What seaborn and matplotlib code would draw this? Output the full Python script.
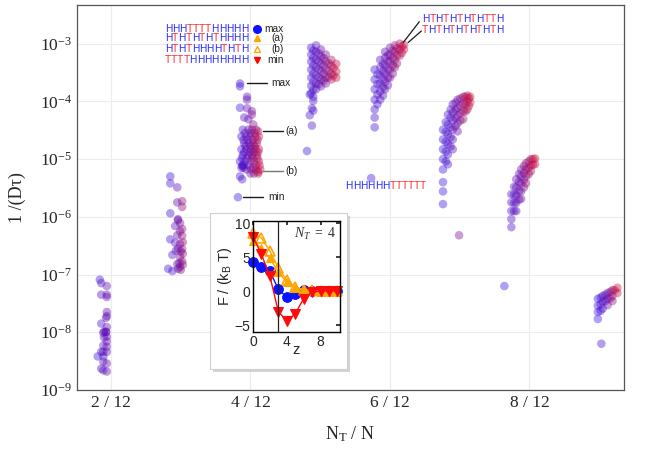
import numpy as np
import pandas as pd
import seaborn as sns
import matplotlib.pyplot as plt
from matplotlib.colors import LinearSegmentedColormap
from matplotlib.patches import Rectangle
from matplotlib.ticker import FixedLocator, LogLocator, NullFormatter

# scatter clouds: (offset from N_T, log10 of 1/(D tau))
c2 = [(-0.16, -7.09), (-0.14, -7.15), (-0.06, -7.20), (-0.14, -7.35), (-0.06, -7.35), (-0.06, -7.39),
      (-0.06, -7.65), (-0.06, -7.72), (-0.07, -7.75), (-0.14, -7.85), (-0.06, -7.91), (-0.10, -7.99),
      (-0.07, -7.99), (-0.07, -8.00), (-0.11, -8.01), (-0.06, -8.08), (-0.10, -8.09), (-0.06, -8.16),
      (-0.11, -8.23), (-0.06, -8.25), (-0.14, -8.34), (-0.06, -8.34), (-0.11, -8.34), (-0.19, -8.42),
      (-0.11, -8.42), (-0.11, -8.51), (-0.06, -8.54), (-0.14, -8.63), (-0.11, -8.66), (-0.06, -8.68)]
c3 = [(-0.15, -5.30), (-0.15, -5.42), (-0.05, -5.49), (-0.05, -5.75), (0.02, -5.73), (0.02, -5.83),
      (-0.15, -5.94), (-0.04, -6.04), (-0.04, -6.06), (-0.01, -6.11), (-0.08, -6.16), (0.02, -6.21),
      (-0.05, -6.32), (0.02, -6.33), (-0.15, -6.39), (-0.08, -6.45), (-0.01, -6.47), (0.02, -6.56),
      (-0.07, -6.59), (-0.12, -6.66), (-0.01, -6.70), (0.02, -6.77), (-0.05, -6.82), (-0.01, -6.87),
      (-0.18, -6.90), (-0.12, -6.94), (-0.04, -6.90), (0.03, -6.83), (0.03, -6.64), (0.03, -6.44),
      (-0.01, -6.25), (-0.04, -6.55), (0.00, -6.60), (-0.02, -6.80), (0.00, -6.92)]
c4 = [(-0.15, -3.69), (-0.15, -3.74), (-0.05, -3.92), (-0.05, -3.97), (-0.15, -4.11), (-0.05, -4.12),
      (0.02, -4.17), (0.02, -4.23), (-0.09, -4.28), (-0.03, -4.31), (0.04, -4.40), (0.11, -4.52),
      (-0.11, -4.49), (-0.03, -4.49), (0.02, -4.49), (0.08, -4.49),
      (-0.08, -4.55), (0.00, -4.55), (0.06, -4.55),
      (-0.13, -4.61), (-0.06, -4.61), (0.00, -4.61), (0.07, -4.61), (0.12, -4.61),
      (-0.10, -4.67), (-0.04, -4.67), (0.03, -4.67), (0.10, -4.67),
      (-0.09, -4.73), (-0.02, -4.73), (0.04, -4.73), (0.09, -4.73),
      (-0.07, -4.78), (0.00, -4.78), (0.06, -4.78),
      (-0.13, -4.83), (-0.06, -4.83), (0.01, -4.83), (0.07, -4.83), (0.12, -4.83),
      (-0.09, -4.88), (-0.01, -4.88), (0.05, -4.88), (0.11, -4.88),
      (-0.11, -4.93), (-0.03, -4.93), (0.02, -4.93), (0.09, -4.93),
      (-0.12, -4.98), (-0.05, -4.98), (0.03, -4.98), (0.10, -4.98),
      (-0.15, -5.04), (-0.08, -5.04), (0.00, -5.04), (0.05, -5.04), (0.12, -5.04),
      (-0.12, -5.11), (-0.11, -5.12), (-0.10, -5.10), (-0.03, -5.11), (0.08, -5.11), (0.13, -5.11),
      (-0.13, -5.15), (-0.10, -5.15), (0.04, -5.15),
      (-0.06, -5.18), (0.01, -5.18), (0.08, -5.18), (0.14, -5.18),
      (0.00, -5.25), (0.05, -5.25), (0.11, -5.25), (0.11, -5.22),
      (-0.15, -5.30), (-0.12, -5.35), (-0.18, -5.66)]
c5 = [(-0.13, -3.07), (-0.13, -3.19), (-0.13, -3.31), (-0.13, -3.45), (-0.13, -3.59), (-0.13, -3.73), (-0.13, -3.86),
      (-0.10, -3.12), (-0.10, -3.25), (-0.10, -3.38), (-0.10, -3.52), (-0.10, -3.66), (-0.10, -3.80),
      (-0.06, -3.03), (-0.06, -3.14), (-0.06, -3.28), (-0.06, -3.41), (-0.06, -3.55), (-0.06, -3.69), (-0.06, -3.79),
      (-0.02, -3.17), (-0.02, -3.30), (-0.02, -3.44), (-0.02, -3.58), (-0.02, -3.70),
      (0.01, -3.10), (0.01, -3.22), (0.01, -3.35), (0.01, -3.48), (0.01, -3.62), (0.01, -3.74),
      (0.05, -3.25), (0.05, -3.38), (0.05, -3.52), (0.05, -3.64),
      (0.08, -3.19), (0.08, -3.31), (0.08, -3.45), (0.08, -3.59), (0.08, -3.69),
      (0.12, -3.34), (0.12, -3.47), (0.12, -3.58),
      (0.16, -3.28), (0.16, -3.38), (0.16, -3.52), (0.16, -3.62),
      (0.19, -3.42), (0.19, -3.55),
      (0.23, -3.35), (0.23, -3.48), (0.23, -3.59),
      (-0.15, -3.88), (-0.10, -3.92), (-0.10, -3.99), (-0.12, -4.12), (-0.10, -4.16), (-0.15, -4.24),
      (-0.12, -4.42), (-0.19, -4.86)]
c6 = [(-0.22, -3.45), (-0.22, -3.62), (-0.22, -3.79), (-0.22, -3.97), (-0.22, -4.14), (-0.22, -4.28), (-0.22, -4.45),
      (-0.18, -3.53), (-0.18, -3.70), (-0.18, -3.88), (-0.18, -4.05),
      (-0.14, -3.28), (-0.14, -3.41), (-0.14, -3.55), (-0.14, -3.69), (-0.14, -3.83), (-0.14, -3.97),
      (-0.10, -3.35), (-0.10, -3.48), (-0.10, -3.62), (-0.10, -3.76), (-0.10, -3.90),
      (-0.07, -3.14), (-0.07, -3.24), (-0.07, -3.38), (-0.07, -3.52), (-0.07, -3.66), (-0.07, -3.79),
      (-0.03, -3.20), (-0.03, -3.31), (-0.03, -3.45), (-0.03, -3.59), (-0.03, -3.72),
      (0.00, -3.07), (0.00, -3.19), (0.00, -3.31), (0.00, -3.45), (0.00, -3.59),
      (0.04, -3.12), (0.04, -3.25), (0.04, -3.38), (0.04, -3.52),
      (0.07, -3.03), (0.07, -3.14), (0.07, -3.28), (0.07, -3.41),
      (0.10, -3.08), (0.10, -3.20), (0.10, -3.34),
      (0.14, -3.00), (0.14, -3.10), (0.14, -3.21),
      (0.17, -3.05), (0.17, -3.16),
      (0.20, -3.02), (0.20, -3.10),
      (-0.27, -5.33)]
c7 = [(-0.24, -4.49), (-0.24, -4.66), (-0.24, -4.83), (-0.24, -5.00), (-0.24, -5.18), (-0.24, -5.40),
      (-0.24, -5.56), (-0.24, -5.78),
      (-0.20, -4.36), (-0.20, -4.53), (-0.20, -4.70), (-0.20, -4.87), (-0.20, -5.04),
      (-0.17, -4.23), (-0.17, -4.40), (-0.17, -4.57), (-0.17, -4.74), (-0.17, -4.92), (-0.17, -5.09),
      (-0.13, -4.14), (-0.13, -4.28), (-0.13, -4.45), (-0.13, -4.62), (-0.13, -4.78),
      (-0.10, -4.05), (-0.10, -4.19), (-0.10, -4.33), (-0.10, -4.49), (-0.10, -4.66), (-0.10, -4.83),
      (-0.06, -4.02), (-0.06, -4.15), (-0.06, -4.29), (-0.06, -4.43),
      (-0.03, -3.97), (-0.03, -4.11), (-0.03, -4.24), (-0.03, -4.38), (-0.03, -4.52),
      (0.01, -3.95), (0.01, -4.07), (0.01, -4.20), (0.01, -4.33),
      (0.05, -3.92), (0.05, -4.04), (0.05, -4.17), (0.05, -4.31),
      (0.08, -3.92), (0.08, -4.05), (0.08, -4.18),
      (0.11, -3.90), (0.11, -4.00), (0.11, -4.14),
      (0.13, -3.95), (0.13, -4.08),
      (0.15, -3.92), (0.15, -4.02),
      (-0.01, -6.32)]
c8 = [(-0.26, -5.61), (-0.26, -5.75), (-0.26, -5.90), (-0.26, -6.04), (-0.26, -6.18),
      (-0.22, -5.48), (-0.22, -5.62), (-0.22, -5.76), (-0.22, -5.90),
      (-0.19, -5.35), (-0.19, -5.49), (-0.19, -5.63), (-0.19, -5.76), (-0.19, -5.90),
      (-0.15, -5.26), (-0.15, -5.40), (-0.15, -5.55), (-0.15, -5.70),
      (-0.12, -5.18), (-0.12, -5.30), (-0.12, -5.42), (-0.12, -5.56), (-0.12, -5.69),
      (-0.08, -5.12), (-0.08, -5.24), (-0.08, -5.36), (-0.08, -5.49),
      (-0.05, -5.07), (-0.05, -5.18), (-0.05, -5.30), (-0.05, -5.42),
      (-0.01, -5.04), (-0.01, -5.15), (-0.01, -5.26),
      (0.02, -5.00), (0.02, -5.11), (0.02, -5.21),
      (0.05, -5.00), (0.05, -5.10),
      (0.08, -4.99), (0.08, -5.09),
      (-0.36, -7.20)]
c9 = [(-0.02, -7.42), (-0.02, -7.54), (-0.02, -7.65), (-0.02, -7.77),
      (0.02, -7.40), (0.02, -7.52), (0.02, -7.63),
      (0.05, -7.37), (0.05, -7.47), (0.05, -7.59),
      (0.09, -7.35), (0.09, -7.46),
      (0.12, -7.32), (0.12, -7.42), (0.12, -7.53),
      (0.16, -7.30), (0.16, -7.41),
      (0.19, -7.27), (0.19, -7.37), (0.19, -7.46),
      (0.22, -7.27),
      (0.26, -7.23), (0.26, -7.32),
      (0.03, -8.20)]
clouds = {2: c2, 3: c3, 4: c4, 5: c5, 6: c6, 7: c7, 8: c8, 9: c9}
# how far towards red each cloud gets (colour only)
red_reach = {2: 0.5, 3: 0.75, 4: 1.0, 5: 1.0, 6: 1.0, 7: 1.0, 8: 1.0, 9: 1.0}

x_ticks = [2, 4, 6, 8]
x_ticklabels = ['2 / 12', '4 / 12', '6 / 12', '8 / 12']
y_ticks = [1e-9, 1e-8, 1e-7, 1e-6, 1e-5, 1e-4, 1e-3]

# inset: free energy profiles for N_T = 4
z = list(range(11))
f_max = [4.3, 3.5, 2.9, 0.3, -0.9, -0.4, 0.1, 0.0, 0.0, 0.0, 0.0]
f_a = [7.3, 6.3, 4.8, 2.8, 1.3, 0.5, 0.2, 0.1, 0.0, 0.0, 0.0]
f_b = [8.6, 7.8, 5.9, 3.4, 1.6, 0.6, 0.2, 0.1, 0.0, 0.0, 0.0]
f_min = [8.0, 5.4, 2.2, -3.0, -4.4, -3.3, -1.1, -0.1, 0.0, 0.0, 0.0]

seq_legend = ['HHHTTTTHHHHH', 'HTHTHTHTHHHH', 'HTHTHHHHTHTH', 'TTTTHHHHHHHH']
seq_labels = ['max', '(a)', '(b)', 'min']
seq_top = ['HTHTHTHTHTTH', 'THTHTHTHTHTH']
seq_mid = 'HHHHHHTTTTTT'

sns.set_theme(style='white')
plt.rcParams['font.family'] = ['Liberation Serif']
plt.rcParams['mathtext.fontset'] = 'custom'
plt.rcParams['mathtext.rm'] = 'Liberation Serif'
plt.rcParams['mathtext.it'] = 'Liberation Serif:italic'
plt.rcParams['mathtext.sf'] = 'Liberation Sans'

rows = []
for nt, pts in clouds.items():
    dxs = [p[0] for p in pts]
    lo, hi = min(dxs), max(dxs)
    for dx, lg in pts:
        tone = (dx - lo) / (hi - lo) * red_reach[nt]
        rows.append((nt + dx, 10 ** lg, tone))
df = pd.DataFrame(rows, columns=['nt', 'rate', 'tone'])

cmap = LinearSegmentedColormap.from_list('hb', ['#3a10e0', '#6208b0', '#c80c3c'])

fig = plt.figure(figsize=(6.51, 4.55), dpi=100)
ax = fig.add_axes([0.118, 0.143, 0.840, 0.846])
sns.scatterplot(data=df, x='nt', y='rate', hue='tone', palette=cmap, hue_norm=(0, 1),
                s=38, alpha=0.4, edgecolor='none', legend=False, ax=ax)
ax.set_yscale('log')
ax.set_ylim(1e-9, 10 ** -2.33)
ax.set_xlim(1.51, 9.35)
ax.set_xticks(x_ticks)
ax.set_xticklabels(x_ticklabels)
ax.yaxis.set_major_locator(FixedLocator(y_ticks))
ax.yaxis.set_minor_locator(LogLocator(base=10, subs=(2.0, 5.0), numticks=12))
ax.yaxis.set_minor_formatter(NullFormatter())
ax.grid(True, which='major', color='#ececec', lw=0.8)
ax.tick_params(direction='in', labelsize=12.5, length=5, color='#555555')
ax.tick_params(which='minor', direction='in', length=3, color='#555555')
for s in ax.spines.values():
    s.set_color('#555555')
    s.set_linewidth(0.9)
ax.set_xlabel(r'N$_\mathrm{T}$ / N', fontsize=13, labelpad=10)
ax.set_ylabel('1 /(D\u03c4)', fontsize=13, labelpad=10)

HT_COL = {'H': '#2b2bff', 'T': '#ff2b2b'}
FS = 7.3
CH_W = {'H': 0.722 * FS, 'T': 0.611 * FS}  # Liberation Sans advance widths, points
sans = dict(family='Liberation Sans', fontsize=FS)


def coin_text(ax, x, y, seq):
    off = 0.0
    for ch in seq:
        ax.annotate(ch, xy=(x, y), xytext=(off, 0), textcoords='offset points',
                    va='center', ha='left', color=HT_COL[ch], **sans)
        off += CH_W[ch]


# sequence key at top left
key_y = [-2.74, -2.91, -3.09, -3.28]
key_mk = [dict(marker='o', color='#1010ff', mfc='#1010ff', ms=5.5),
          dict(marker='^', color='#ffa500', mfc='#ffa500', ms=5),
          dict(marker='^', color='#ffa500', mfc='none', ms=5),
          dict(marker='v', color='#ff0000', mfc='#ff0000', ms=5)]
for seq, lab, ly, mk in zip(seq_legend, seq_labels, key_y, key_mk):
    coin_text(ax, 2.77, 10 ** ly, seq)
    ax.plot([4.09], [10 ** ly], mew=1, ls='none', **mk)
    ax.text(4.48, 10 ** ly, lab, ha='right', va='center', color='#222222', **sans)

# labels at N_T = 4
side = [(3.95, 4.24, -3.69, 'max', 4.30, 'k'), (4.18, 4.47, -4.52, '(a)', 4.50, 'k'),
        (4.18, 4.47, -5.21, '(b)', 4.50, '#777777'), (3.89, 4.18, -5.66, 'min', 4.25, 'k')]
for x0, x1, ly, lab, xt, c in side:
    ax.plot([x0, x1], [10 ** ly, 10 ** ly], color=c, lw=1)
    ax.text(xt, 10 ** ly, lab, ha='left', va='center', color='#222222', **sans)

coin_text(ax, 6.46, 10 ** -2.57, seq_top[0])
coin_text(ax, 6.46, 10 ** -2.76, seq_top[1])
ax.plot([6.19, 6.42], [10 ** -2.98, 10 ** -2.62], color='k', lw=0.9)
ax.plot([6.26, 6.45], [10 ** -2.98, 10 ** -2.78], color='k', lw=0.9)
coin_text(ax, 5.36, 10 ** -5.47, seq_mid)

# inset box with shadow
bx, by, bw, bh = 210 / 651, 1 - 369 / 455, 137 / 651, 156 / 455
fig.add_artist(Rectangle((bx + 3 / 651, by - 3 / 455), bw, bh, transform=fig.transFigure,
                         facecolor='#b8b8b8', edgecolor='none', alpha=0.6, zorder=1))
fig.add_artist(Rectangle((bx, by), bw, bh, transform=fig.transFigure,
                         facecolor='white', edgecolor='#d0d0d0', lw=0.8, zorder=1.5))

ins = fig.add_axes([253 / 651, 1 - 332 / 455, 87 / 651, 111 / 455])
ins.set_zorder(3)
ins.set_facecolor('white')
sns.lineplot(x=z, y=f_max, ax=ins, color='#0a14ff', marker='o', ms=7, mec='#0a14ff', lw=1, clip_on=False)
sns.lineplot(x=z, y=f_b, ax=ins, color='#ffa500', marker='^', ms=7, mfc='none', mec='#ffa500', mew=1.2, lw=1, clip_on=False)
sns.lineplot(x=z, y=f_a, ax=ins, color='#ffa500', marker='^', ms=6, mec='#ffa500', lw=1, clip_on=False)
sns.lineplot(x=z, y=f_min, ax=ins, color='#ff0a0a', marker='v', ms=7, mec='#ff0a0a', lw=1, clip_on=False)
ins.axvline(3, color='#222222', lw=0.9)
ins.set_xlim(0, 10.3)
ins.set_ylim(-6, 10.3)
ins.set_xticks([0, 4, 8])
ins.set_yticks([-5, 0, 5, 10])
ins.tick_params(direction='in', top=True, right=True, length=3, labelsize=10, pad=2)
for lab in ins.get_xticklabels() + ins.get_yticklabels():
    lab.set_family('Liberation Sans')
for s in ins.spines.values():
    s.set_color('black')
    s.set_linewidth(1)
ins.set_xlabel('z', family='Liberation Sans', fontsize=10.5, labelpad=-4)
ins.set_ylabel(r'F / (k$_{\mathsf{B}}$ T)', family='Liberation Sans', fontsize=10.5, labelpad=0)
ins.text(0.96, 0.88, r'$N_T\ =\ 4$', transform=ins.transAxes, ha='right', va='center', fontsize=10, color='#333333')

fig.savefig('out.png', dpi=100)
